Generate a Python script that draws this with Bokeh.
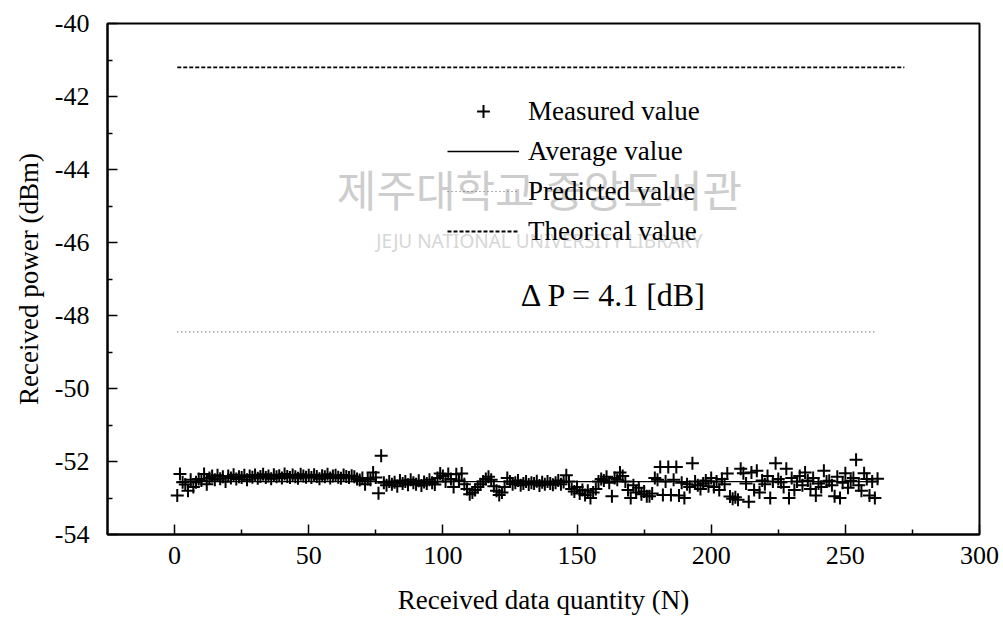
from bokeh.plotting import figure
from bokeh.models import FixedTicker, Legend, LegendItem, Label, Range1d
from bokeh.embed import file_html
from bokeh.resources import INLINE

# ---- data -------------------------------------------------------------
sample_index = list(range(1, 263))
measured_dbm = [
    -52.93, -52.34, -52.57, -52.63, -52.80, -52.50, -52.70, -52.57, -52.48, -52.52,
    -52.34, -52.62, -52.45, -52.40, -52.50, -52.38, -52.47, -52.42, -52.55, -52.40,
    -52.45, -52.36, -52.48, -52.42, -52.44, -52.38, -52.50, -52.40, -52.43, -52.37,
    -52.46, -52.41, -52.35, -52.44, -52.40, -52.47, -52.36, -52.42, -52.39, -52.45,
    -52.34, -52.41, -52.44, -52.37, -52.42, -52.46, -52.35, -52.40, -52.43, -52.38,
    -52.44, -52.36, -52.41, -52.47, -52.39, -52.42, -52.35, -52.45, -52.40, -52.38,
    -52.43, -52.46, -52.37, -52.41, -52.44, -52.39, -52.42, -52.48, -52.51, -52.45,
    -52.62, -52.48, -52.50, -52.30, -52.44, -52.87, -51.84, -52.58, -52.65, -52.55,
    -52.62, -52.57, -52.68, -52.52, -52.60, -52.55, -52.64, -52.50, -52.58, -52.62,
    -52.53, -52.66, -52.56, -52.60, -52.50, -52.58, -52.63, -52.45, -52.33, -52.40,
    -52.55, -52.34, -52.48, -52.70, -52.35, -52.52, -52.33, -52.62, -52.75, -52.90,
    -52.85, -52.78, -52.70, -52.62, -52.55, -52.48, -52.42, -52.50, -52.68, -52.80,
    -52.92, -52.85, -52.70, -52.45, -52.55, -52.62, -52.58, -52.52, -52.65, -52.60,
    -52.55, -52.63, -52.58, -52.60, -52.54, -52.66, -52.57, -52.62, -52.55, -52.60,
    -52.64, -52.58, -52.52, -52.62, -52.56, -52.38, -52.55, -52.75, -52.82, -52.70,
    -52.88, -52.78, -52.92, -52.80, -53.00, -52.85, -52.75, -52.55, -52.48, -52.52,
    -52.42, -52.58, -52.95, -52.45, -52.50, -52.30, -52.40, -52.55, -52.78, -53.00,
    -52.65, -52.85, -52.72, -52.90, -52.82, -52.95, -52.95, -52.88, -52.45, -52.50,
    -52.15, -52.92, -52.55, -52.15, -52.92, -52.50, -52.15, -52.93, -52.58, -53.00,
    -52.62, -52.70, -52.05, -52.55, -52.65, -52.75, -52.60, -52.52, -52.68, -52.45,
    -52.70, -52.55, -52.78, -52.48, -52.62, -52.33, -52.96, -53.02, -52.98, -53.05,
    -52.20, -52.32, -52.60, -53.10, -52.30, -52.78, -52.25, -52.85, -52.52, -52.62,
    -52.40, -53.00, -52.55, -52.05, -52.48, -52.57, -52.70, -52.20, -53.00, -52.45,
    -52.78, -52.55, -52.40, -52.65, -52.30, -52.52, -52.75, -52.45, -52.93, -52.60,
    -52.70, -52.25, -52.55, -52.53, -52.65, -52.95, -52.42, -53.00, -52.58, -52.32,
    -52.72, -52.53, -52.45, -51.95, -52.65, -52.80, -52.32, -52.48, -52.93, -52.55,
    -53.00, -52.47,
]

average_dbm = -52.55
predicted_dbm = -48.45
theory_dbm = -41.2
average_span = [1, 262]
predicted_span = [1, 261]
theory_span = [1, 272]

x_ticks = [0, 50, 100, 150, 200, 250, 300]
x_minor = [25, 75, 125, 175, 225, 275]
y_ticks = [-54, -52, -50, -48, -46, -44, -42, -40]
y_minor = [-53, -51, -49, -47, -45, -43, -41]
y_tick_labels = {v: "-%d" % abs(v) for v in y_ticks}

delta_p = predicted_dbm - average_dbm

SERIF = "Liberation Serif"

# ---- figure -----------------------------------------------------------
p = figure(
    frame_width=872, frame_height=511,
    x_range=Range1d(-25, 300), y_range=Range1d(-54, -40),
    min_border_left=107, min_border_right=24, min_border_top=23, min_border_bottom=96,
    output_backend="svg", toolbar_location=None,
    background_fill_color="white", border_fill_color="white",
)
p.grid.visible = False
p.outline_line_color = "black"
p.outline_line_width = 2

for ax in (p.xaxis[0], p.yaxis[0]):
    ax.axis_line_width = 2
    ax.axis_line_color = "black"
    ax.major_tick_in = 10
    ax.major_tick_out = 0
    ax.minor_tick_in = 5
    ax.minor_tick_out = 0
    ax.major_tick_line_width = 1.5
    ax.minor_tick_line_width = 1.5
    ax.major_label_text_font = SERIF
    ax.major_label_text_font_size = "26px"
    ax.major_label_text_color = "black"
    ax.axis_label_text_font = SERIF
    ax.axis_label_text_font_size = "27px"
    ax.axis_label_text_font_style = "normal"
    ax.axis_label_text_color = "black"

p.xaxis.ticker = FixedTicker(ticks=x_ticks, minor_ticks=x_minor)
p.yaxis.ticker = FixedTicker(ticks=y_ticks, minor_ticks=y_minor)
p.yaxis.major_label_overrides = y_tick_labels
p.xaxis.axis_label = "Received data quantity (N)"
p.yaxis.axis_label = "Received power (dBm)"
p.xaxis.major_label_standoff = 12
p.xaxis.axis_label_standoff = 18
p.yaxis.major_label_standoff = 18
p.yaxis.axis_label_standoff = 8

# library watermark
wm1 = Label(x=136, y=-44.5, text="제주대학교 중앙도서관", text_align="center",
            text_baseline="middle", text_font="Noto Sans CJK KR",
            text_font_size="43px", text_color="#cdcdcd", level="underlay")
wm2 = Label(x=136, y=-45.95, text="JEJU NATIONAL UNIVERSITY LIBRARY", text_align="center",
            text_baseline="middle", text_font="Noto Sans",
            text_font_size="19px", text_color="#d6d6d6", level="underlay")
p.add_layout(wm1)
p.add_layout(wm2)

# reference levels
r_theory = p.line(theory_span, [theory_dbm] * 2, line_color="black",
                  line_width=1.8, line_dash="4 2")
r_pred = p.line(predicted_span, [predicted_dbm] * 2, line_color="#666666",
                line_width=1.2, line_dash="1 3")
r_avg = p.line(average_span, [average_dbm] * 2, line_color="black", line_width=1.3)

# measurements
r_meas = p.scatter(sample_index, measured_dbm, marker="cross", size=13,
                   line_color="black", line_width=2)

legend = Legend(
    items=[
        LegendItem(label="Measured value", renderers=[r_meas]),
        LegendItem(label="Average value", renderers=[r_avg]),
        LegendItem(label="Predicted value", renderers=[r_pred]),
        LegendItem(label="Theorical value", renderers=[r_theory]),
    ],
    location=(340, 287), glyph_width=72, glyph_height=32, spacing=8,
    padding=0, margin=0, label_standoff=9,
    background_fill_alpha=0, border_line_alpha=0,
    label_text_font=SERIF, label_text_font_size="27px", label_text_color="black",
)
p.add_layout(legend)

p.add_layout(Label(x=129, y=-47.45, text="\u0394 P = %.1f [dB]" % delta_p,
                   text_baseline="middle", text_font=SERIF,
                   text_font_size="32px", text_color="black"))

open("out.html", "w").write(file_html(p, INLINE))
